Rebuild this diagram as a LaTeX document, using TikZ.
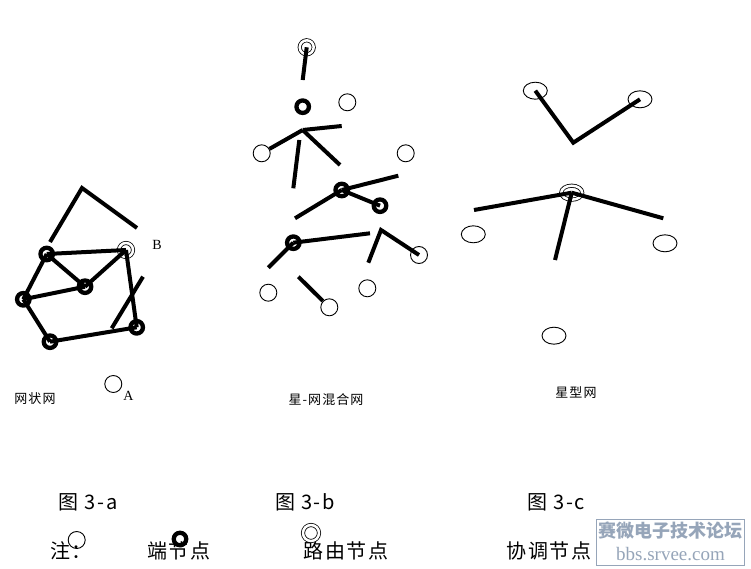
\documentclass[tikz,border=0pt]{standalone}
\usepackage{fontspec}
\setmainfont{Liberation Serif}
\newfontfamily\cjk{Noto Sans CJK SC}
\newfontfamily\cjkw[LetterSpace=8]{Noto Sans CJK SC}
\usetikzlibrary{shapes.geometric}
\definecolor{wmark}{RGB}{150,165,185}
\begin{document}
\begin{tikzpicture}[x=1pt,y=-1pt,
  enode/.style={draw, circle, line width=4.3pt, inner sep=0pt, minimum size=12.5pt},
  pnode/.style={draw, circle, line width=0.9pt, inner sep=0pt, minimum size=17pt},
  rnode/.style={draw, circle, double, line width=0.8pt, double distance=2.5pt, inner sep=0pt, minimum size=14pt},
  penode/.style={draw, ellipse, line width=0.9pt, inner sep=0pt, minimum width=24pt, minimum height=17pt},
  cnode/.style={draw, ellipse, double, line width=0.8pt, double distance=2.5pt, inner sep=0pt, minimum width=21pt, minimum height=14pt},
  link/.style={line width=4pt},
  lbl/.style={font=\cjkw\fontsize{13}{13}\selectfont},
  figcap/.style={font=\cjkw\fontsize{20}{20}\selectfont}]
\useasboundingbox (0,0) rectangle (751,569);

% figure 3-a
\node[rnode] (B) at (126,250) {};
\node[enode] (a1) at (46.7,254) {};
\node[enode] (a2) at (85,286.7) {};
\node[enode] (a3) at (23.3,299.3) {};
\node[enode] (a4) at (50,341.7) {};
\node[enode] (a5) at (136.7,327.3) {};
\node[pnode] (A) at (113.3,384) {};
\node[font=\fontsize{14}{14}\selectfont] (lB) at (157,245) {B};
\node[font=\fontsize{14}{14}\selectfont] (lA) at (128.5,396) {A};
\coordinate (t1) at (50,242);
\coordinate (t2) at (82,188);
\coordinate (t3) at (137,228);
\coordinate (s1) at (143,276.7);
\coordinate (s2) at (111.7,328.3);
\path[draw,link] (t1) -- (t2) -- (t3);
\path[draw,link] (s1) -- (s2);
\path[draw,link] (a1.center) -- (B.center);
\path[draw,link] (a1.center) -- (a2.center);
\path[draw,link] (a2.center) -- (B.center);
\path[draw,link] (a1.center) -- (a3.center);
\path[draw,link] (a3.center) -- (a2.center);
\path[draw,link] (a3.center) -- (a4.center);
\path[draw,link] (a4.center) -- (a5.center);
\path[draw,link] (B.center) -- (a5.center);
\node[lbl] (na) at (35,399) {网状网};

% figure 3-b
\node[rnode] (r1) at (306.7,47.3) {};
\node[enode] (b1) at (302.7,106.7) {};
\node[pnode] (q1) at (347.3,102.3) {};
\node[pnode] (q2) at (261.7,153.3) {};
\node[pnode] (q3) at (405.7,153.3) {};
\node[enode] (b2) at (341.7,190) {};
\node[enode] (b3) at (380,205.7) {};
\node[enode] (b4) at (293.3,242.7) {};
\node[pnode] (q4) at (419,255) {};
\node[pnode] (q5) at (268.3,292.7) {};
\node[pnode] (q6) at (329.3,307.3) {};
\node[pnode] (q7) at (367.3,288.3) {};
\coordinate (r1e) at (302.7,80);
\coordinate (hub) at (302.7,130);
\coordinate (h1) at (341.7,126);
\coordinate (h2) at (340,165);
\coordinate (h3) at (299.3,140);
\coordinate (h4) at (293.3,188.3);
\coordinate (u1) at (398.3,175.7);
\coordinate (u2) at (295,218.3);
\coordinate (w1) at (370,233.3);
\coordinate (w2) at (268.3,267.7);
\coordinate (v1) at (368.3,262.7);
\coordinate (v2) at (381,230);
\coordinate (x1) at (298.3,276.7);
\path[draw,link] (r1.center) -- (r1e);
\path[draw,link] (hub) -- (h1);
\path[draw,link] (hub) -- (q2);
\path[draw,link] (hub) -- (h2);
\path[draw,link] (h3) -- (h4);
\path[draw,link] (b2.center) -- (u1);
\path[draw,link] (b2.center) -- (u2);
\path[draw,link] (b2.center) -- (b3.center);
\path[draw,link] (b4.center) -- (w1);
\path[draw,link] (b4.center) -- (w2);
\path[draw,link] (v1) -- (v2) -- (q4.center);
\path[draw,link] (x1) -- (q6);
\node[lbl] (nb) at (326,399.3) {星-网混合网};

% figure 3-c
\node[penode] (c1) at (535.3,90.7) {};
\node[penode] (c2) at (640,99.3) {};
\node[cnode] (co) at (571.7,192.7) {};
\node[penode] (c3) at (473.3,234.3) {};
\node[penode] (c4) at (665,243.3) {};
\node[penode] (c5) at (554,335.7) {};
\coordinate (m1) at (573.3,142.7);
\coordinate (k1) at (474,210);
\coordinate (k2) at (663.3,218.3);
\coordinate (k3) at (555,260);
\path[draw,link] (c1.center) -- (m1) -- (c2.center);
\path[draw,link] (co.center) -- (k1);
\path[draw,link] (co.center) -- (k2);
\path[draw,link] (co.center) -- (k3);
\node[lbl] (nc) at (576,393) {星型网};

% captions and legend
\node[figcap] (fa) at (88,502) {图 3-a};
\node[figcap] (fb) at (305,502) {图 3-b};
\node[figcap] (fc) at (556,502) {图 3-c};
\node[figcap] (zh) at (71,551) {注：};
\node[figcap] (le) at (179,551) {端节点};
\node[figcap] (lr) at (346,551) {路由节点};
\node[figcap] (lc) at (549,551) {协调节点};
\node[pnode] (g1) at (76.7,540) {};
\node[enode] (g2) at (180,539) {};
\node[rnode, minimum size=16pt] (g3) at (311,533) {};

% watermark
\node[draw=wmark, fill=white, line width=0.8pt, minimum width=148pt, minimum height=46pt] (wm) at (670.5,542) {};
\node[font=\cjk\bfseries\fontsize{18}{18}\selectfont, text=wmark] (wm1) at (670.5,531) {赛微电子技术论坛};
\node[font=\fontsize{19}{19}\selectfont, text=wmark] (wm2) at (670.5,554) {bbs.srvee.com};
\end{tikzpicture}
\end{document}
